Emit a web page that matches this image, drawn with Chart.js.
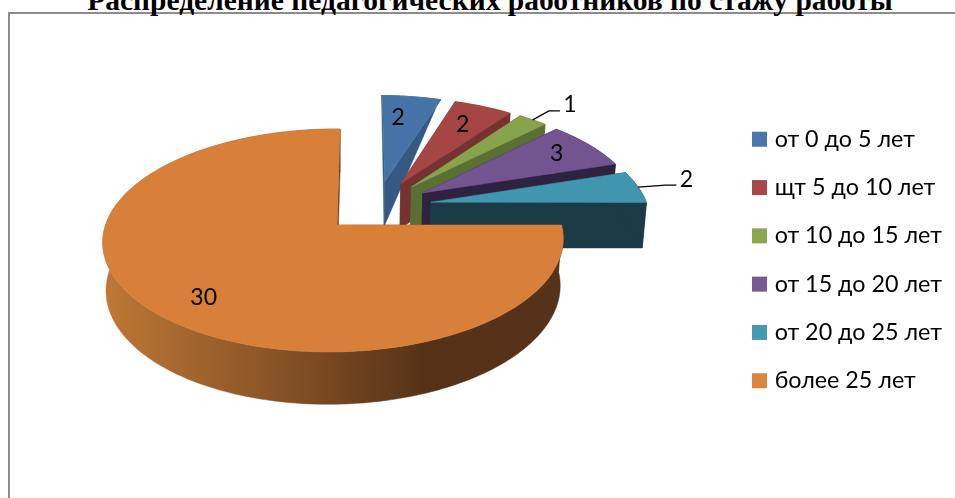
<!DOCTYPE html>
<html>
<head>
<meta charset="utf-8">
<title>Стаж работы</title>
<script src="https://cdn.jsdelivr.net/npm/chart.js@4"></script>
<style>
  html, body { margin: 0; padding: 0; background: #fff; overflow: hidden; }
  #page { position: relative; width: 955px; height: 498px; overflow: hidden; }
  #frame { position: absolute; left: 8px; top: 12px; width: 1000px; height: 600px; border: 2px solid #8c8c8c; }
  #title { position: absolute; left: 0; width: 980px; top: -14px; text-align: center; white-space: nowrap;
           font: bold 29.5px "Liberation Serif", serif; color: #000; line-height: 28px; }
  canvas { position: absolute; left: 0; top: 0; }
</style>
</head>
<body>
<div id="page">
  <div id="frame"></div>
  <div id="title">Распределение педагогических работников по стажу работы</div>
  <canvas id="pie" width="955" height="498"></canvas>
</div>
<script>
/* values */
const categories = ['от 0 до 5 лет', 'щт 5 до 10 лет', 'от 10 до 15 лет', 'от 15 до 20 лет', 'от 20 до 25 лет', 'более 25 лет'];
const teachers = [2, 2, 1, 3, 2, 30];

/* slice styling */
const topColors = ['#4674a9', '#a54544', '#87a34c', '#725590', '#4096ae', '#d8803a'];
const legendColors = ['#4a76ab', '#a8484a', '#8aa64f', '#775a92', '#4599b3', '#dc853f'];
const wallColors = ['#345a84', '#763231', '#5a6f33', '#2f2140', '#1b3b47', '#55321a'];
const rimDepth = [0, 1, 1, 1, 1, 1];

/* value label placement: fraction of radius, fraction across the slice */
const labelRadius = [0.72, 0.745, 1.29, 0.80, 1.26, 0.80];
const labelTurn = [0.35, 0.47, 0.7, 0.47, 0.39, 0.484];
const hasLeader = [false, false, true, false, true, false];

/* camera: plane coords (relative to the big slice apex) -> screen */
const view = { ox: 337, oy: 225, a: 228, b: 109.3, d: -3.5, p: 0.139, q: -0.015, depth: 47, vx: 340, taper: 0.014 };

function project(U, V) {
  const w = 1 - view.p * V - view.q * U;
  return { x: view.ox + (view.a * U + view.d * V) / w, y: view.oy + view.b * V / w, w };
}
function dropDown(pt, k) {
  const dep = view.depth * (1 + 0.7 * (1 / pt.w - 1)) * k;
  return { x: pt.x + (view.vx - pt.x) * view.taper, y: pt.y + dep };
}
function poly(ctx, pts, fill) {
  ctx.beginPath();
  pts.forEach((p, i) => i ? ctx.lineTo(p.x, p.y) : ctx.moveTo(p.x, p.y));
  ctx.closePath();
  ctx.fillStyle = fill;
  ctx.strokeStyle = fill;
  ctx.lineWidth = 0.5;
  ctx.fill();
  ctx.stroke();
}

const pie3d = {
  id: 'pie3d',
  beforeDatasetsDraw(chart) {
    const ctx = chart.ctx;
    const arcs = chart.getDatasetMeta(0).data;
    const shiftOf = arc => {
      const mid = (arc.startAngle + arc.endAngle) / 2;
      const e = arc.options.offset / 4 / arc.outerRadius;
      return { x: Math.cos(mid) * e, y: Math.sin(mid) * e };
    };
    const base = shiftOf(arcs[teachers.indexOf(Math.max(...teachers))]);
    const at = (arc, r, ang) => {
      const s = shiftOf(arc);
      return project(r * Math.cos(ang) + s.x - base.x, r * Math.sin(ang) + s.y - base.y);
    };

    ctx.save();
    arcs.forEach((arc, i) => {
      const start = arc.startAngle, end = arc.endAngle;
      const n = Math.max(6, Math.round((end - start) * 40));
      const rim = [];
      for (let k = 0; k <= n; k++) rim.push(at(arc, 1, start + (end - start) * k / n));
      const apex = at(arc, 0, start);
      const far = rimDepth[i];
      let wall = wallColors[i];
      if (i === teachers.length - 1) {
        wall = ctx.createLinearGradient(102, 0, 563, 0);
        wall.addColorStop(0, '#bf7836');
        wall.addColorStop(0.33, '#8f5828');
        wall.addColorStop(0.62, '#633a1c');
        wall.addColorStop(0.7, '#553217');
        wall.addColorStop(1, '#55321a');
      }
      // cut walls, then the outer wall, then the top
      poly(ctx, [apex, rim[0], dropDown(rim[0], far), dropDown(apex, 1)], wall);
      poly(ctx, [apex, rim[n], dropDown(rim[n], far), dropDown(apex, 1)], wall);
      poly(ctx, rim.concat(rim.map(p => dropDown(p, far)).reverse()), wall);
      poly(ctx, [apex].concat(rim), topColors[i]);
    });

    // value labels
    ctx.font = '23px Lato, "Open Sans", sans-serif';
    ctx.textAlign = 'center';
    ctx.textBaseline = 'middle';
    arcs.forEach((arc, i) => {
      const ang = arc.startAngle + (arc.endAngle - arc.startAngle) * labelTurn[i];
      const pos = at(arc, labelRadius[i], ang);
      if (hasLeader[i]) {
        const from = at(arc, 1, (arc.startAngle + arc.endAngle) / 2);
        ctx.beginPath();
        ctx.moveTo(from.x, from.y);
        ctx.lineTo(pos.x - 21, pos.y + 6);
        ctx.lineTo(pos.x - 10, pos.y + 6);
        ctx.strokeStyle = '#000';
        ctx.lineWidth = 1.3;
        ctx.stroke();
      }
      ctx.fillStyle = '#000';
      ctx.fillText(String(teachers[i]), pos.x, pos.y);
    });
    ctx.restore();
    return false;
  }
};

new Chart(document.getElementById('pie'), {
  type: 'pie',
  data: {
    labels: categories,
    datasets: [{
      data: teachers,
      backgroundColor: legendColors,
      borderWidth: 0,
      offset: 200
    }]
  },
  options: {
    responsive: false,
    animation: false,
    events: [],
    radius: 200,
    layout: { padding: { top: 22, right: 3 } },
    plugins: {
      tooltip: { enabled: false },
      legend: {
        position: 'right',
        labels: {
          color: '#000',
          boxWidth: 7,
          boxHeight: 7,
          padding: 25,
          font: { family: 'Lato, "Open Sans", sans-serif', size: 23.3 },
          generateLabels(chart) {
            return Chart.overrides.pie.plugins.legend.labels.generateLabels(chart).map(item => {
              item.lineWidth = 8;
              item.strokeStyle = item.fillStyle;
              return item;
            });
          }
        }
      }
    }
  },
  plugins: [pie3d]
});
</script>
</body>
</html>
